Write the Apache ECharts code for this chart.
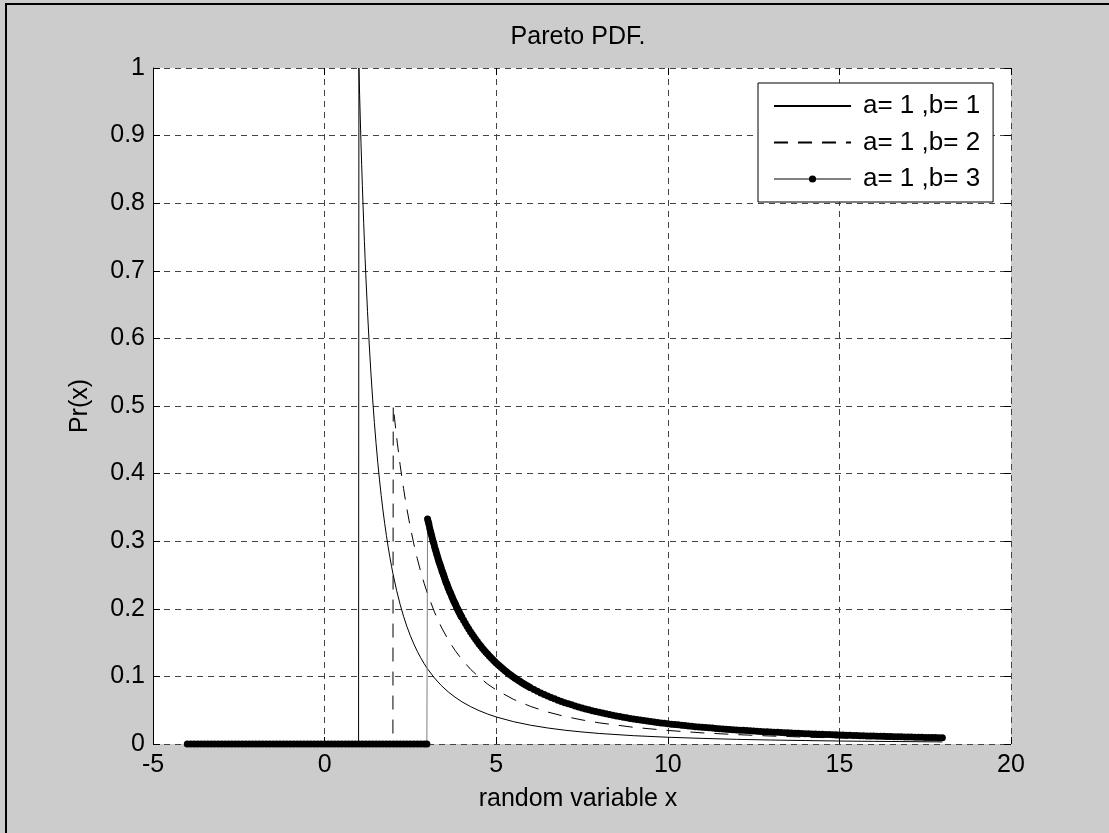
<!DOCTYPE html>
<html><head><meta charset="utf-8">
<script src="https://cdn.jsdelivr.net/npm/echarts@6/dist/echarts.min.js"></script>
<style>html,body{margin:0;padding:0;background:#cccccc}#c{width:1109px;height:833px}</style>
</head><body><div id="c"></div>
<script>
// ---- data ----
const seriesNames = ['a= 1 ,b= 1', 'a= 1 ,b= 2', 'a= 1 ,b= 3'];
const xTicks = [-5, 0, 5, 10, 15, 20];
const yTicks = [0, 0.1, 0.2, 0.3, 0.4, 0.5, 0.6, 0.7, 0.8, 0.9, 1];

const xB1 = [-4,0.99,1,1.02,1.04,1.06,1.08,1.1,1.12,1.14,1.16,1.18,1.2,1.25,1.3,1.35,1.4,1.45,1.5,1.55,1.6,1.65,1.7,1.75,1.8,1.85,1.9,1.95,2,2.1,2.2,2.3,2.4,2.5,2.6,2.7,2.8,2.9,3,3.2,3.4,3.6,3.8,4,4.25,4.5,4.75,5,5.5,6,6.5,7,7.5,8,9,10,11,12,13,14,15,16,17,18];
const yB1 = [0,0,1,0.9612,0.9246,0.89,0.8573,0.8264,0.7972,0.7695,0.7432,0.7182,0.6944,0.64,0.5917,0.5487,0.5102,0.4756,0.4444,0.4162,0.3906,0.3673,0.346,0.3265,0.3086,0.2922,0.277,0.263,0.25,0.2268,0.2066,0.189,0.1736,0.16,0.1479,0.1372,0.1276,0.1189,0.1111,0.0977,0.0865,0.0772,0.0693,0.0625,0.0554,0.0494,0.0443,0.04,0.0331,0.0278,0.0237,0.0204,0.0178,0.0156,0.0123,0.01,0.0083,0.0069,0.0059,0.0051,0.0044,0.0039,0.0035,0.0031];

const xB2 = [-4,1.99,2,2.04,2.08,2.12,2.16,2.2,2.25,2.3,2.35,2.4,2.5,2.6,2.7,2.8,2.9,3,3.2,3.4,3.6,3.8,4,4.25,4.5,4.75,5,5.5,6,6.5,7,7.5,8,9,10,11,12,13,14,15,16,17,18];
const yB2 = [0,0,0.5,0.4806,0.4623,0.445,0.4287,0.4132,0.3951,0.3781,0.3622,0.3472,0.32,0.2959,0.2743,0.2551,0.2378,0.2222,0.1953,0.173,0.1543,0.1385,0.125,0.1107,0.0988,0.0886,0.08,0.0661,0.0556,0.0473,0.0408,0.0356,0.0313,0.0247,0.02,0.0165,0.0139,0.0118,0.0102,0.0089,0.0078,0.0069,0.0062];

const x3Flat = [-4,-3.9,-3.8,-3.7,-3.6,-3.5,-3.4,-3.3,-3.2,-3.1,-3,-2.9,-2.8,-2.7,-2.6,-2.5,-2.4,-2.3,-2.2,-2.1,-2,-1.9,-1.8,-1.7,-1.6,-1.5,-1.4,-1.3,-1.2,-1.1,-1,-0.9,-0.8,-0.7,-0.6,-0.5,-0.4,-0.3,-0.2,-0.1,0,0.1,0.2,0.3,0.4,0.5,0.6,0.7,0.8,0.9,1,1.1,1.2,1.3,1.4,1.5,1.6,1.7,1.8,1.9,2,2.1,2.2,2.3,2.4,2.5,2.6,2.7,2.8,2.9,2.98];
const y3Flat = [0,0,0,0,0,0,0,0,0,0,0,0,0,0,0,0,0,0,0,0,0,0,0,0,0,0,0,0,0,0,0,0,0,0,0,0,0,0,0,0,0,0,0,0,0,0,0,0,0,0,0,0,0,0,0,0,0,0,0,0,0,0,0,0,0,0,0,0,0,0,0];
const x3Steep = [3,3.02,3.04,3.06,3.08,3.1,3.12,3.14,3.16,3.18,3.2,3.22,3.24,3.26,3.28,3.3,3.32,3.34,3.36,3.38,3.4,3.42,3.44,3.46,3.48,3.5,3.52,3.54,3.56,3.58,3.6,3.62,3.64,3.66,3.68,3.7,3.72,3.74,3.76,3.78,3.8,3.82,3.84,3.86,3.88,3.9,3.92,3.94,3.96,3.98,4];
const y3Steep = [0.333,0.329,0.325,0.320,0.316,0.312,0.308,0.304,0.300,0.297,0.293,0.289,0.286,0.282,0.279,0.275,0.272,0.269,0.266,0.263,0.260,0.256,0.254,0.251,0.248,0.245,0.242,0.239,0.237,0.234,0.231,0.229,0.226,0.224,0.222,0.219,0.217,0.214,0.212,0.210,0.208,0.206,0.203,0.201,0.199,0.197,0.195,0.193,0.191,0.189,0.1875];
const x3Mid = [4.05,4.1,4.15,4.2,4.25,4.3,4.35,4.4,4.45,4.5,4.55,4.6,4.65,4.7,4.75,4.8,4.85,4.9,4.95,5,5.05,5.1,5.15,5.2,5.25,5.3,5.35,5.4,5.45,5.5,5.55,5.6,5.65,5.7,5.75,5.8,5.85,5.9,5.95,6];
const y3Mid = [0.1829,0.1785,0.1742,0.1701,0.1661,0.1623,0.1585,0.155,0.1515,0.1481,0.1449,0.1418,0.1387,0.1358,0.133,0.1302,0.1275,0.125,0.1224,0.12,0.1176,0.1153,0.1131,0.111,0.1088,0.1068,0.1048,0.1029,0.101,0.0992,0.0974,0.0957,0.094,0.0923,0.0907,0.0892,0.0877,0.0862,0.0847,0.0833];
const x3Tail = [6.1,6.2,6.3,6.4,6.5,6.6,6.7,6.8,6.9,7,7.1,7.2,7.3,7.4,7.5,7.6,7.7,7.8,7.9,8,8.1,8.2,8.3,8.4,8.5,8.6,8.7,8.8,8.9,9,9.1,9.2,9.3,9.4,9.5,9.6,9.7,9.8,9.9,10,10.1,10.2,10.3,10.4,10.5,10.6,10.7,10.8,10.9,11,11.1,11.2,11.3,11.4,11.5,11.6,11.7,11.8,11.9,12,12.1,12.2,12.3,12.4,12.5,12.6,12.7,12.8,12.9,13,13.1,13.2,13.3,13.4,13.5,13.6,13.7,13.8,13.9,14,14.1,14.2,14.3,14.4,14.5,14.6,14.7,14.8,14.9,15,15.1,15.2,15.3,15.4,15.5,15.6,15.7,15.8,15.9,16,16.1,16.2,16.3,16.4,16.5,16.6,16.7,16.8,16.9,17,17.1,17.2,17.3,17.4,17.5,17.6,17.7,17.8,17.9,18];
const y3Tail = [0.0806,0.078,0.0756,0.0732,0.071,0.0689,0.0668,0.0649,0.063,0.0612,0.0595,0.0579,0.0563,0.0548,0.0533,0.0519,0.0506,0.0493,0.0481,0.0469,0.0457,0.0446,0.0436,0.0425,0.0415,0.0406,0.0396,0.0387,0.0379,0.037,0.0362,0.0354,0.0347,0.034,0.0332,0.0326,0.0319,0.0312,0.0306,0.03,0.0294,0.0288,0.0283,0.0277,0.0272,0.0267,0.0262,0.0257,0.0252,0.0248,0.0243,0.0239,0.0235,0.0231,0.0227,0.0223,0.0219,0.0215,0.0212,0.0208,0.0205,0.0202,0.0198,0.0195,0.0192,0.0189,0.0186,0.0183,0.018,0.0178,0.0175,0.0172,0.017,0.0167,0.0165,0.0162,0.016,0.0158,0.0155,0.0153,0.0151,0.0149,0.0147,0.0145,0.0143,0.0141,0.0139,0.0137,0.0135,0.0133,0.0132,0.013,0.0128,0.0127,0.0125,0.0123,0.0122,0.012,0.0119,0.0117,0.0116,0.0114,0.0113,0.0112,0.011,0.0109,0.0108,0.0106,0.0105,0.0104,0.0103,0.0101,0.01,0.0099,0.0098,0.0097,0.0096,0.0095,0.0094,0.0093];

// ---- build ----
const FONT = '"Liberation Sans", Arial, Helvetica, sans-serif';
const FS = 25;
const pairs = (xs, ys) => xs.map((x, i) => [x, ys[i]]);
const xB3 = x3Flat.concat(x3Steep, x3Mid, x3Tail);
const yB3 = y3Flat.concat(y3Steep, y3Mid, y3Tail);

const chart = echarts.init(document.getElementById('c'), null, { renderer: 'canvas' });
const gridLine = { show: true, lineStyle: { color: '#444', type: [6, 5], width: 1 } };
const option = {
  backgroundColor: '#cccccc',
  animation: false,
  textStyle: { fontFamily: FONT },
  grid: { left: 153, right: 98, top: 68, bottom: 89, show: true, backgroundColor: '#ffffff', borderWidth: 0 },
  xAxis: [
    { type: 'value', min: xTicks[0], max: xTicks[xTicks.length - 1], interval: 5, position: 'bottom',
      axisLine: { show: false, onZero: false },
      axisTick: { show: true, inside: true, length: 7, lineStyle: { color: '#000' } },
      axisLabel: { color: '#000', fontSize: FS, margin: 9, fontFamily: FONT },
      splitLine: gridLine },
    { type: 'value', min: xTicks[0], max: xTicks[xTicks.length - 1], interval: 5, position: 'top',
      axisLine: { show: false, onZero: false },
      axisTick: { show: true, inside: true, length: 7, lineStyle: { color: '#000' } },
      axisLabel: { show: false }, splitLine: { show: false } }
  ],
  yAxis: [
    { type: 'value', min: yTicks[0], max: yTicks[yTicks.length - 1], interval: 0.1, position: 'left',
      axisLine: { show: true, onZero: false, lineStyle: { color: '#000', width: 1 } },
      axisTick: { show: true, inside: true, length: 7, lineStyle: { color: '#000' } },
      axisLabel: { color: '#000', fontSize: FS, margin: 8, fontFamily: FONT },
      splitLine: gridLine },
    { type: 'value', min: yTicks[0], max: yTicks[yTicks.length - 1], interval: 0.1, position: 'right',
      axisLine: { show: false, onZero: false },
      axisTick: { show: true, inside: true, length: 7, lineStyle: { color: '#000' } },
      axisLabel: { show: false }, splitLine: { show: false } }
  ],
  legend: {
    orient: 'vertical', left: 758, top: 83,
    padding: [10, 13, 10, 15], itemGap: 10.5, itemWidth: 77, itemHeight: 9,
    borderColor: '#000', borderWidth: 1, borderRadius: 0, backgroundColor: '#ffffff',
    selectedMode: false,
    textStyle: { color: '#000', fontSize: 26, lineHeight: 24, padding: [0, 0, 0, 7], fontFamily: FONT },
    data: [
      { name: seriesNames[0], itemStyle: { opacity: 0 } },
      { name: seriesNames[1], itemStyle: { opacity: 0 } },
      { name: seriesNames[2] }
    ]
  },
  series: [
    { name: seriesNames[0], type: 'line', data: pairs(xB1, yB1), symbol: 'none', clip: false,
      itemStyle: { color: 'rgba(0,0,0,0)', borderWidth: 0 },
      lineStyle: { color: '#000', width: 1, type: 'solid' }, z: 3 },
    { name: seriesNames[1], type: 'line', data: pairs(xB2, yB2), symbol: 'none', clip: false,
      itemStyle: { color: 'rgba(0,0,0,0)', borderWidth: 0 },
      lineStyle: { color: '#000', width: 1, type: [14, 10] }, z: 3 },
    { name: seriesNames[2], type: 'line', data: pairs(xB3, yB3), symbol: 'circle', symbolSize: 7,
      showSymbol: true, showAllSymbol: true, clip: false, sampling: null,
      itemStyle: { color: '#000', borderWidth: 0 },
      lineStyle: { color: '#808080', width: 1 }, z: 4 }
  ],
  graphic: [
    { type: 'rect', shape: { x: 6, y: 4, width: 1200, height: 1000 }, style: { fill: 'none', stroke: '#000', lineWidth: 2 }, silent: true, z: 100 },
    { type: 'text', x: 578, y: 37, style: { text: 'Pareto PDF.', fontSize: FS, fontFamily: FONT, fill: '#000', align: 'center', verticalAlign: 'middle', textAlign: 'center', textVerticalAlign: 'middle' } },
    { type: 'text', x: 578, y: 799, style: { text: 'random variable x', fontSize: FS, fontFamily: FONT, fill: '#000', align: 'center', verticalAlign: 'middle', textAlign: 'center', textVerticalAlign: 'middle' } },
    { type: 'text', x: 80, y: 406, rotation: Math.PI / 2, style: { text: 'Pr(x)', fontSize: FS, fontFamily: FONT, fill: '#000', align: 'center', verticalAlign: 'middle', textAlign: 'center', textVerticalAlign: 'middle' } }
  ]
};
chart.setOption(option);
</script>
</body></html>
